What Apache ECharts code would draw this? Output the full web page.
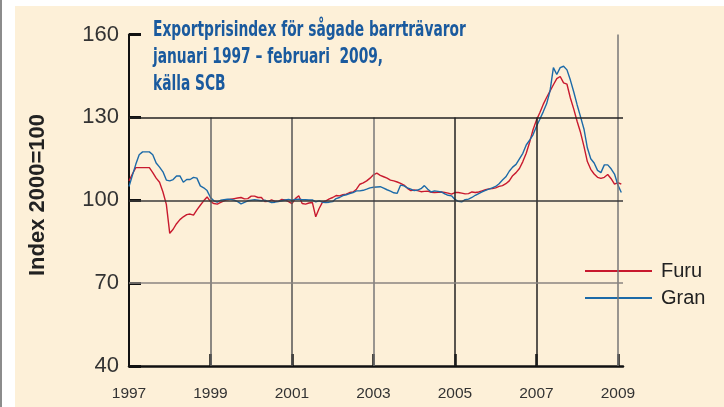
<!DOCTYPE html>
<html>
<head>
<meta charset="utf-8">
<script src="https://cdn.jsdelivr.net/npm/echarts@6/dist/echarts.min.js"></script>
<style>
  html, body { margin: 0; padding: 0; background: #fff; }
  #edge { position: absolute; left: 0; top: 0; width: 2px; height: 407px; background: #8c8c8c; }
  #frame { position: absolute; left: 15px; top: 6px; right: 0; bottom: 0; background: #fdf0d8; }
  #chart { position: absolute; left: 0; top: 0; width: 724px; height: 407px; }
</style>
</head>
<body>
<div id="edge"></div>
<div id="frame"></div>
<div id="chart"></div>
<script>
// monthly index, januari 1997 (0) .. februari 2009 (145)
var furu = [
  107, 109.5, 111.8, 111.8, 111.8, 111.8, 111.8, 110, 108, 106.5,
  103, 98.5, 88, 89.5, 91.5, 93, 94, 94.8, 95, 94.6,
  96.5, 98.2, 99.8, 101.2, 99.5, 98.8, 98.6, 99.2, 99.8, 100.2,
  100.4, 100.6, 100.8, 101, 100.5, 100.6, 101.5, 101.5, 101, 101,
  99.5, 99.6, 100.1, 99.6, 99.6, 100.3, 100.1, 99.5, 98.8, 100.6,
  101.6, 98.8, 98.6, 99, 99.2, 94, 97, 99.3, 99.8, 100.5,
  101, 101.7, 101.6, 102, 102.2, 102.8, 103, 104, 105.8, 106.3,
  107, 108, 109.2, 109.8, 109, 108.5, 108, 107.3, 107, 106.6,
  106.1, 105.5, 104.3, 103.5, 103.7, 103.5, 103.1, 103.2, 103.3, 102.9,
  102.8, 102.9, 103, 102.8, 102.6, 102.2, 102.8, 102.8, 102.6, 102.3,
  102.4, 103, 102.8, 103, 103.4, 103.8, 104.1, 104.2, 104.5, 105,
  105.3, 106, 107, 108.9, 110, 111.5, 114, 117, 121, 125.5,
  129, 131.7, 134.7, 137.2, 139.5, 141.8, 144, 144.8, 142.5, 142,
  137, 133, 128.5, 124.5, 119.5, 114, 111.2, 109.5, 108.3, 107.9,
  108.3, 109.3, 107.8, 105.8, 106.4, 105.8
];
var gran = [
  105, 109, 113, 116.5, 117.5, 117.5, 117.5, 116.5, 113.5, 112,
  110.3, 107.3, 107, 107.5, 108.8, 108.8, 106.5, 107.5, 107.5, 108.3,
  108, 105.2, 104.5, 103.5, 101, 99.8, 99.3, 100, 100.2, 100.4,
  100.3, 100, 99.5, 98.7, 99.2, 99.8, 100, 100.2, 100, 99.8,
  100, 99.6, 99.2, 99.3, 99.5, 99.8, 100.1, 100.3, 100, 100.3,
  100.4, 100.2, 100.2, 100.1, 100.1, 99.4, 99.8, 99.3, 99.2, 99.3,
  99.5, 100.6, 101, 101.7, 102, 102.4, 102.8, 103.4, 103.4, 103.6,
  104, 104.5, 104.7, 104.8, 104.9, 104.4, 103.8, 103.3, 102.7, 102.5,
  105.5, 105.2, 104.5, 104, 103.5, 103.7, 104.2, 105.3, 104, 103,
  103.4, 103.2, 103, 102.3, 101.8, 101.6, 100.3, 99.6, 99.4, 100.2,
  100.4, 101, 101.8, 102.4, 103, 103.6, 104, 104.5, 105, 106,
  107.3, 108.5, 110.5, 112, 113, 115, 117, 120, 121.8, 123.7,
  126.7, 129.3, 132, 134.9, 139.5, 148, 145.5, 148, 148.5, 147.2,
  143.5, 139.2, 134.5, 130.2, 125.8, 119, 115, 113.5, 110.8, 110,
  112.8, 112.8, 111.4, 109.5, 105.5, 102.8
];
var yearTicks = [0, 24, 48, 72, 96, 120, 144];
var yearLabels = ['1997', '1999', '2001', '2003', '2005', '2007', '2009'];
var seriesNames = ['Furu', 'Gran'];

var RED = '#c8192e', BLUE = '#1c6aa8';
var FONT = '"Liberation Sans", Arial, sans-serif';

function toPoints(arr) {
  var out = [];
  for (var i = 0; i < arr.length; i++) out.push([i, arr[i]]);
  return out;
}

// gridlines: vertical ones stop at 130 except 2009
var vColors = ['#666', '#555', '#777', '#222', '#222', '#777'];
var gridLines = [];
for (var k = 1; k < yearTicks.length; k++) {
  var lineTop = yearTicks[k] === 144 ? 160 : 130;
  gridLines.push([
    { coord: [yearTicks[k], 40], lineStyle: { color: vColors[k - 1], width: 1.5, type: 'solid' } },
    { coord: [yearTicks[k], lineTop] }
  ]);
}
var hLines = [[130, '#222'], [100, '#3a3a3a'], [70, '#8a8580']];
hLines.forEach(function (h) {
  gridLines.push({ yAxis: h[0], lineStyle: { color: h[1], width: 1.5, type: 'solid' } });
});

var chart = echarts.init(document.getElementById('chart'));
var option = {
  animation: false,
  backgroundColor: 'transparent',
  grid: { left: 129, top: 34.5, width: 494, height: 331.5, containLabel: false },
  xAxis: {
    type: 'value', min: 0, max: 145.5, interval: 24,
    axisLine: { lineStyle: { color: '#111', width: 2.5 } },
    axisTick: { inside: true, length: 12, lineStyle: { color: '#111', width: 2.5 }, customValues: yearTicks.slice(1) },
    axisLabel: {
      customValues: yearTicks, margin: 20, fontSize: 15.5, color: '#333', fontFamily: FONT,
      formatter: function (v) { var i = yearTicks.indexOf(v); return i >= 0 ? yearLabels[i] : ''; }
    },
    splitLine: { show: false }
  },
  yAxis: {
    type: 'value', min: 40, max: 160, interval: 30,
    axisLine: { show: true, lineStyle: { color: '#111', width: 2 } },
    axisTick: { show: true, inside: true, length: 12, lineStyle: { color: '#111', width: 3 } },
    axisLabel: { fontSize: 22, color: '#333', margin: 10, fontFamily: FONT },
    splitLine: { show: false }
  },
  legend: {
    orient: 'vertical', left: 585, top: 261, padding: 0,
    itemWidth: 67, itemHeight: 2, itemGap: 7, icon: 'rect',
    textStyle: { fontSize: 20, color: '#222', fontFamily: FONT, padding: [0, 0, 0, 4] },
    data: seriesNames
  },
  graphic: [
    {
      type: 'text', x: 153, y: 17, scaleX: 0.73, z: 10,
      style: {
        text: 'Exportprisindex för sågade barrträvaror\njanuari 1997 – februari  2009,\nkälla SCB',
        fill: '#1a5a9e', fontSize: 21, fontWeight: 'bold', lineHeight: 27,
        fontFamily: '"DejaVu Sans Condensed", "Liberation Sans", sans-serif',
        align: 'left', verticalAlign: 'top'
      }
    },
    {
      type: 'text', x: 38, y: 195, rotation: Math.PI / 2,
      style: {
        text: 'Index 2000=100', fill: '#222', fontSize: 22, fontWeight: 'bold',
        fontFamily: FONT, align: 'center', verticalAlign: 'middle'
      }
    }
  ],
  series: [
    {
      name: 'grid', type: 'line', data: [], z: 1, silent: true,
      markLine: { silent: true, symbol: 'none', label: { show: false }, animation: false, data: gridLines }
    },
    {
      name: seriesNames[0], type: 'line', data: toPoints(furu), showSymbol: false, z: 3,
      itemStyle: { color: RED }, lineStyle: { color: RED, width: 1.4 }
    },
    {
      name: seriesNames[1], type: 'line', data: toPoints(gran), showSymbol: false, z: 4,
      itemStyle: { color: BLUE }, lineStyle: { color: BLUE, width: 1.4 }
    }
  ]
};
chart.setOption(option);
</script>
</body>
</html>
